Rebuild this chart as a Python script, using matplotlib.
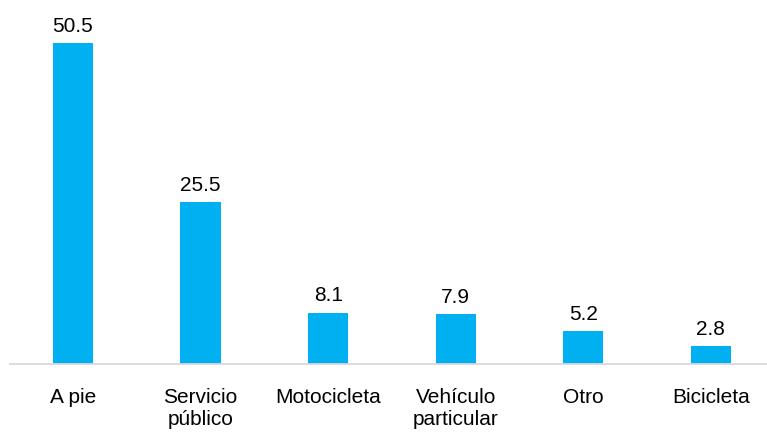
import matplotlib
matplotlib.use("Agg")
import matplotlib.pyplot as plt

categories = ["A pie", "Servicio\npúblico", "Motocicleta", "Vehículo\nparticular", "Otro", "Bicicleta"]
values = [50.5, 25.5, 8.1, 7.9, 5.2, 2.8]

BAR_COLOR = "#00B0F0"
AXIS_COLOR = "#D9D9D9"

plt.rcParams["font.family"] = ["Liberation Sans Narrow", "Liberation Sans", "DejaVu Sans"]

fig = plt.figure(figsize=(7.67, 4.34), dpi=100)
ax = fig.add_axes([10 / 767, 70 / 434, 757 / 767, 364 / 434])

x = range(len(categories))
ax.bar(x, values, width=0.315, color=BAR_COLOR)

for xi, v in zip(x, values):
    ax.annotate(f"{v:.1f}", (xi, v), xytext=(0, 8), textcoords="offset points",
                ha="center", va="baseline", fontsize=15, color="#000000")

ax.set_xticks(list(x))
ax.set_xticklabels(categories, fontsize=15, linespacing=1.2)
ax.tick_params(axis="x", length=0, pad=17)
ax.set_yticks([])
ax.set_xlim(-0.494, 5.44)
ax.set_ylim(0, 57.3)

for side in ("top", "right", "left"):
    ax.spines[side].set_visible(False)
ax.spines["bottom"].set_color(AXIS_COLOR)
ax.spines["bottom"].set_linewidth(1.3)

fig.savefig("out.png", dpi=100)
